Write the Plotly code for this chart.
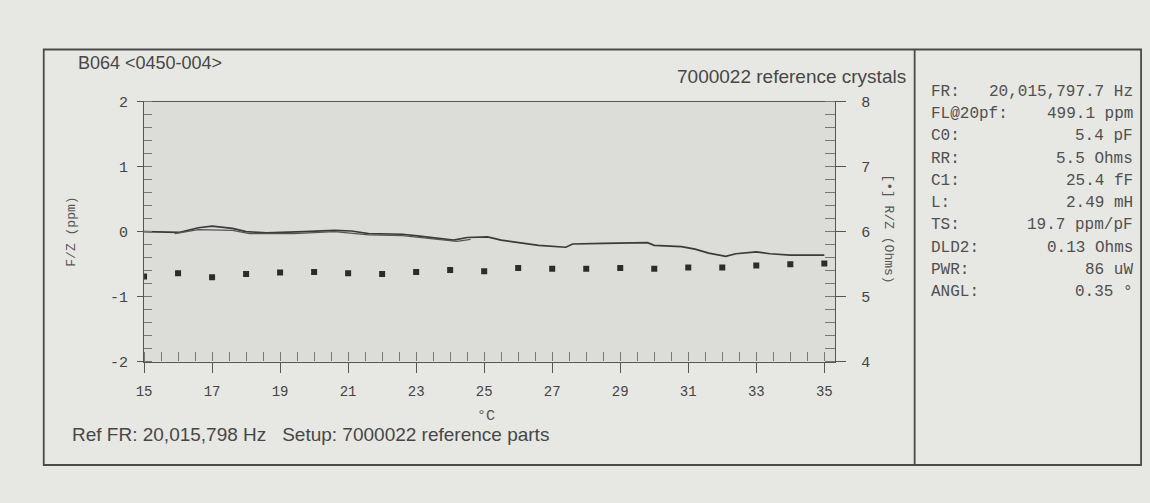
import plotly.graph_objects as go

W, H = 1150, 503

# Frequency deviation (ppm) versus temperature, first sweep
temp_sweep1 = [15.0, 15.8, 16.05, 16.6, 17.0, 17.6, 18.0, 18.6, 19.5, 19.7, 20.6, 21.1,
               21.6, 22.6, 23.1, 23.5, 24.1, 24.5, 25.1, 25.5, 26.1, 26.6, 27.4, 27.6,
               28.5, 29.8, 30.0, 30.8, 31.2, 31.6, 32.1, 32.4, 33.0, 33.4, 34.0, 35.0]
ppm_sweep1 = [0.0, 0.0, -0.01, 0.06, 0.085, 0.05, 0.0, -0.02, -0.01, 0.0, 0.02, 0.01,
              -0.03, -0.04, -0.07, -0.09, -0.13, -0.09, -0.08, -0.13, -0.18, -0.21, -0.24, -0.19,
              -0.18, -0.17, -0.21, -0.23, -0.27, -0.33, -0.38, -0.34, -0.31, -0.34, -0.36, -0.36]

# Second sweep over the lower part of the range
temp_sweep2 = [15.9, 16.6, 17.6, 18.1, 19.4, 20.6, 21.6, 22.6, 23.5, 24.2, 24.6]
ppm_sweep2 = [-0.03, 0.03, 0.02, -0.03, -0.03, 0.0, -0.05, -0.06, -0.11, -0.15, -0.12]

# Resistance (Ohms) at each whole degree
temp_res = [15, 16, 17, 18, 19, 20, 21, 22, 23, 24, 25, 26, 27, 28, 29, 30, 31, 32, 33, 34, 35]
res_ohms = [5.31, 5.36, 5.30, 5.35, 5.37, 5.38, 5.36, 5.35, 5.38, 5.41, 5.39,
            5.44, 5.43, 5.43, 5.44, 5.43, 5.45, 5.45, 5.48, 5.50, 5.51]

x_ticks = [15, 17, 19, 21, 23, 25, 27, 29, 31, 33, 35]
ppm_ticks = [-2, -1, 0, 1, 2]
ppm_tick_text = ["-2", "-1", "0", "1", "2"]
ohm_ticks = [4, 5, 6, 7, 8]

info_labels = ["FR:", "FL@20pf:", "C0:", "RR:", "C1:", "L:", "TS:", "DLD2:", "PWR:", "ANGL:"]
info_values = ["20,015,797.7 Hz", "499.1 ppm", "5.4 pF", "5.5 Ohms", "25.4 fF",
               "2.49 mH", "19.7 ppm/pF", "0.13 Ohms", "86 uW", "0.35 \u00b0"]

INK = "#3a3a3a"
AXIS = "#555555"
MONO = "Liberation Mono, Courier New, monospace"
SANS = "Liberation Sans, Arial, sans-serif"


def px(x):
    return x / W


def py(y):
    return 1 - y / H


fig = go.Figure()
fig.add_trace(go.Scatter(x=temp_sweep1, y=ppm_sweep1, mode="lines",
                         line=dict(color=INK, width=1.7), yaxis="y", hoverinfo="skip"))
fig.add_trace(go.Scatter(x=temp_sweep2, y=ppm_sweep2, mode="lines",
                         line=dict(color="#555555", width=1.2), yaxis="y", hoverinfo="skip"))
fig.add_trace(go.Scatter(x=temp_res, y=res_ohms, mode="markers",
                         marker=dict(symbol="square", size=6, color="#2c2c2c"),
                         yaxis="y2", hoverinfo="skip"))

plot_top, plot_bottom = 98, 367

fig.update_layout(
    width=W, height=H,
    margin=dict(l=0, r=0, t=0, b=0),
    paper_bgcolor="#e7e7e3",
    plot_bgcolor="#dcdcd9",
    showlegend=False,
    xaxis=dict(
        domain=[px(137), px(833)], range=[15, 35.32],
        tickvals=x_ticks, ticks="outside", ticklen=10, tickcolor=AXIS, tickwidth=1,
        showline=True, linecolor=AXIS, linewidth=1.3, mirror=True,
        showgrid=False, zeroline=False, ticklabelstandoff=6,
        tickfont=dict(family=MONO, size=14, color="#444"),
        minor=dict(ticks="inside", ticklen=9, dtick=0.5, tick0=15, tickcolor="#777", showgrid=False),
    ),
    yaxis=dict(
        domain=[py(plot_bottom), py(plot_top)], range=[-2, 2],
        tickvals=ppm_ticks, ticktext=ppm_tick_text, ticks="outside", ticklen=6, tickcolor=AXIS,
        showline=True, linecolor=AXIS, linewidth=1.3,
        showgrid=False, zeroline=False, ticklabelstandoff=6,
        tickfont=dict(family=MONO, size=15, color="#444"),
        minor=dict(ticks="inside", ticklen=8, dtick=0.2, tick0=0, tickcolor="#777", showgrid=False),
    ),
    yaxis2=dict(
        overlaying="y", side="right", anchor="x", range=[4, 8],
        tickvals=ohm_ticks, ticks="outside", ticklen=10, tickcolor=AXIS,
        showline=True, linecolor=AXIS, linewidth=1.3,
        showgrid=False, zeroline=False, ticklabelstandoff=12,
        tickfont=dict(family=MONO, size=15, color="#444"),
        minor=dict(ticks="inside", ticklen=10, dtick=0.2, tick0=4, tickcolor="#777", showgrid=False),
    ),
)

annotations = [
    dict(text="B064 &lt;0450-004&gt;", x=px(68), y=py(58), xanchor="left", yanchor="middle",
         font=dict(family=SANS, size=18, color="#474747")),
    dict(text="7000022 reference crystals", x=px(906), y=py(72), xanchor="right", yanchor="middle",
         font=dict(family=SANS, size=19, color="#474747")),
    dict(text="\u00b0C", x=px(481), y=py(424), xanchor="center", yanchor="middle",
         font=dict(family=MONO, size=15, color="#555")),
    dict(text="Ref FR: 20,015,798 Hz\u00a0\u00a0\u00a0Setup: 7000022 reference parts",
         x=px(62), y=py(442), xanchor="left", yanchor="middle",
         font=dict(family=SANS, size=19, color="#474747")),
    dict(text="F/Z (ppm)", textangle=-90, x=px(64), y=py(233), xanchor="center", yanchor="middle",
         font=dict(family=MONO, size=13, color="#555")),
    dict(text="[\u2022] R/Z (Ohms)", textangle=90, x=px(887), y=py(230), xanchor="center", yanchor="middle",
         font=dict(family=MONO, size=13, color="#555")),
]

for i, (lab, val) in enumerate(zip(info_labels, info_values)):
    yy = 88 + 23.0 * i
    annotations.append(dict(text=lab, x=px(927), y=py(yy), xanchor="left", yanchor="middle",
                            font=dict(family=MONO, size=16, color="#505050")))
    annotations.append(dict(text=val, x=px(1135), y=py(yy), xanchor="right", yanchor="middle",
                            font=dict(family=MONO, size=16, color="#505050")))

for a in annotations:
    a.update(xref="paper", yref="paper", showarrow=False)
fig.update_layout(annotations=annotations)

# Printed page frame with the side panel divider
frame = dict(color="#4a4a4a", width=1.8)
fig.add_shape(type="rect", xref="paper", yref="paper",
              x0=px(36), x1=px(1141), y0=py(474), y1=py(44), line=frame)
fig.add_shape(type="line", xref="paper", yref="paper",
              x0=px(913), x1=px(913), y0=py(474), y1=py(44), line=frame)

fig.write_html("out.html")
